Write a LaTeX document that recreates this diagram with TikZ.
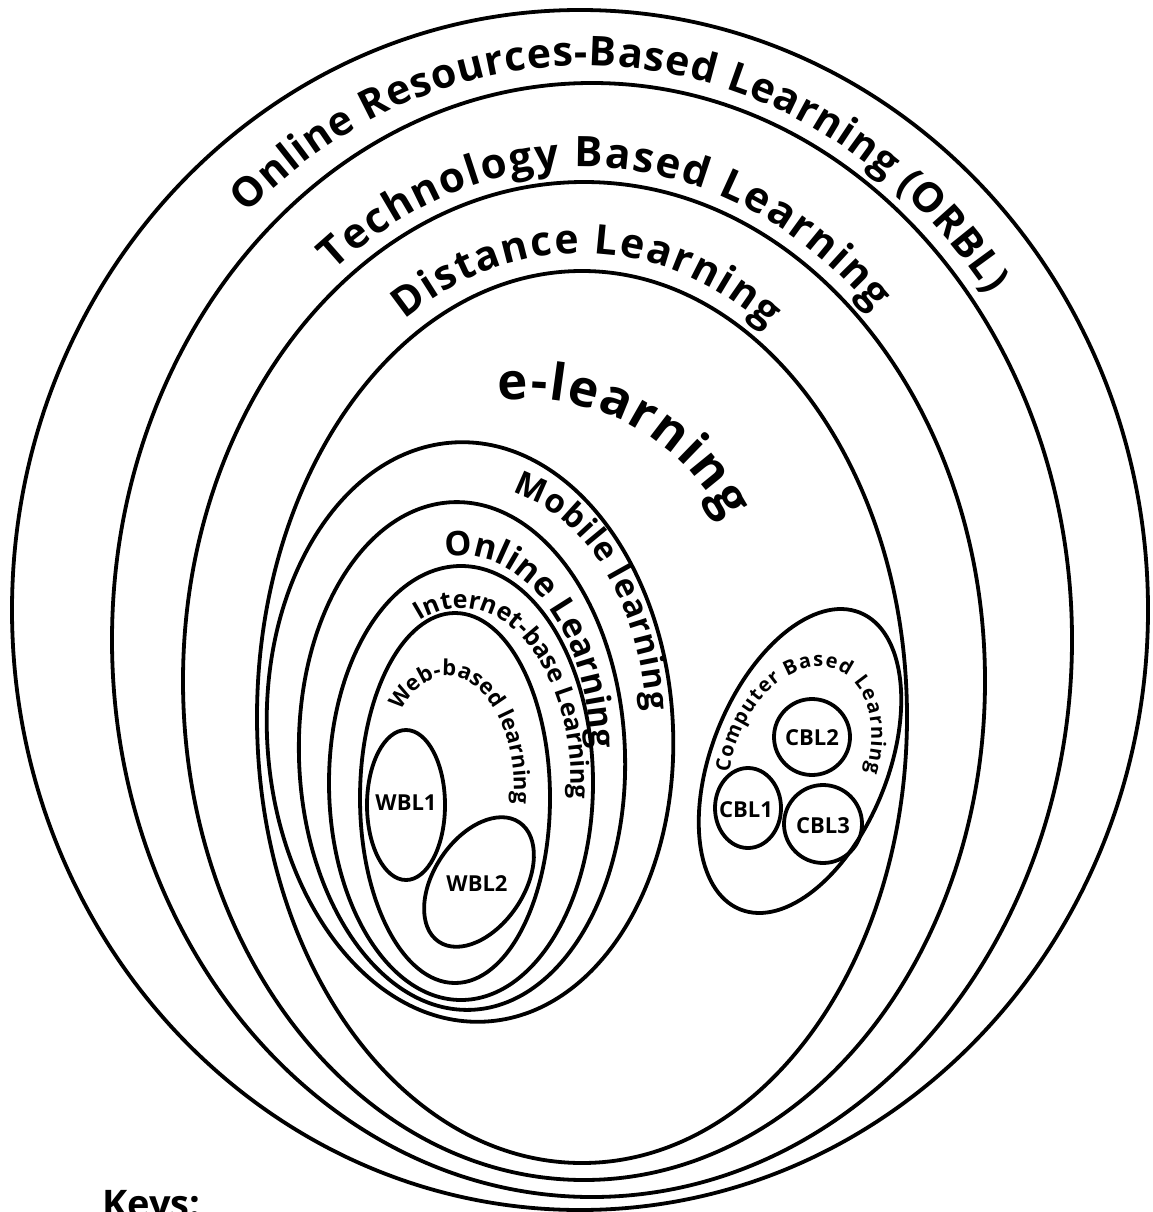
\documentclass[tikz,border=0pt]{standalone}
\usepackage{fontspec}
\setmainfont{Open Sans}
\usetikzlibrary{decorations.text,calc}

\begin{document}
\begin{tikzpicture}[x=1pt, y=-1pt,
    ring/.style={line width=3.8pt},
    arctext/.style={decorate, decoration={text along path, text align=fit to path, text={#1}}},
    setlabel/.style={font=\bfseries\fontsize{22}{24}\selectfont, inner sep=0pt}]
\useasboundingbox (0,0) rectangle (1152,1212);
\clip (0,0) rectangle (1152,1212);
% outer rings
\draw[ring] (580,610) ellipse [x radius=568pt, y radius=600pt];
\draw[ring] (592,640) ellipse [x radius=480pt, y radius=557pt];
\draw[ring] (584,681) ellipse [x radius=401pt, y radius=499pt];
\draw[ring] (582,717) ellipse [x radius=325pt, y radius=446pt];
% inner rings
\draw[ring, rotate around={3:(470,732)}] (470,732) ellipse [x radius=203pt, y radius=290pt];
\draw[ring, rotate around={2:(462,756)}] (462,756) ellipse [x radius=163pt, y radius=254pt];
\draw[ring] (461,783) ellipse [x radius=132pt, y radius=217pt];
\draw[ring] (455,798) ellipse [x radius=95pt, y radius=185pt];
% web based sets
\draw[ring] (406,805) ellipse [x radius=39pt, y radius=75pt];
\draw[ring, rotate around={-34:(479,882)}] (479,882) ellipse [x radius=45pt, y radius=72pt];
% computer based sets
\draw[ring, rotate around={-22:(800,761)}] (800,761) ellipse [x radius=88pt, y radius=160pt];
\draw[ring] (748,808) ellipse [x radius=33pt, y radius=40pt];
\draw[ring] (812,737) circle [radius=38pt];
\draw[ring] (823,824) circle [radius=39pt];
% ring titles
\path[arctext={|\bfseries\fontsize{41}{44}\selectfont|Online Resources-Based Learning (ORBL)}]
  ($(585,640)+(132:505pt and 574pt)$) arc[start angle=132, end angle=37, x radius=505pt, y radius=574pt];
\path[arctext={|\bfseries\fontsize{42}{44}\selectfont|Technology Based Learning}]
  ($(584,681)+(127:416pt and 514pt)$) arc[start angle=127, end angle=46, x radius=416pt, y radius=514pt];
\path[arctext={|\bfseries\fontsize{41}{44}\selectfont|Distance Learning}]
  ($(581,717)+(121:342pt and 464pt)$) arc[start angle=121, end angle=57, x radius=342pt, y radius=464pt];
\path[arctext={|\bfseries\fontsize{51}{54}\selectfont|e-learning}]
  ($(526,621)+(97:222pt)$) arc[start angle=97, end angle=27, radius=222pt];
\path[arctext={|\bfseries\fontsize{33}{36}\selectfont|Mobile learning}]
  ($(477,732)+(78:170pt and 245pt)$) arc[start angle=78, end angle=5, x radius=170pt, y radius=245pt];
\path[arctext={|\bfseries\fontsize{34}{36}\selectfont|Online Learning}]
  ($(463,756)+(98:128pt and 200pt)$) arc[start angle=98, end angle=2, x radius=128pt, y radius=200pt];
\path[arctext={|\bfseries\fontsize{25}{28}\selectfont|Internet-base Learning}]
  ($(461,783)+(112:110pt and 175pt)$) arc[start angle=112, end angle=-4, x radius=110pt, y radius=175pt];
\path[arctext={|\bfseries\fontsize{22}{24}\selectfont|Web-based learning}]
  ($(448,790)+(136:66pt and 114pt)$) arc[start angle=136, end angle=-7, x radius=66pt, y radius=114pt];
\path[rotate around={-22:(800,761)}, arctext={|\bfseries\fontsize{20}{22}\selectfont|Computer Based Learning}]
  ($(800,761)+(202:66pt and 98pt)$) arc[start angle=202, end angle=8, x radius=66pt, y radius=98pt];
% set labels
\node[setlabel] (wbl1) at (406,803) {WBL1};
\node[setlabel] (wbl2) at (477,884) {WBL2};
\node[setlabel] (cbl1) at (746,810) {CBL1};
\node[setlabel] (cbl2) at (812,738) {CBL2};
\node[setlabel] (cbl3) at (823,826) {CBL3};
\node[font=\bfseries\fontsize{38}{40}\selectfont, anchor=base west, inner sep=0pt] (keys) at (102,1217) {Keys:};
\end{tikzpicture}
\end{document}
